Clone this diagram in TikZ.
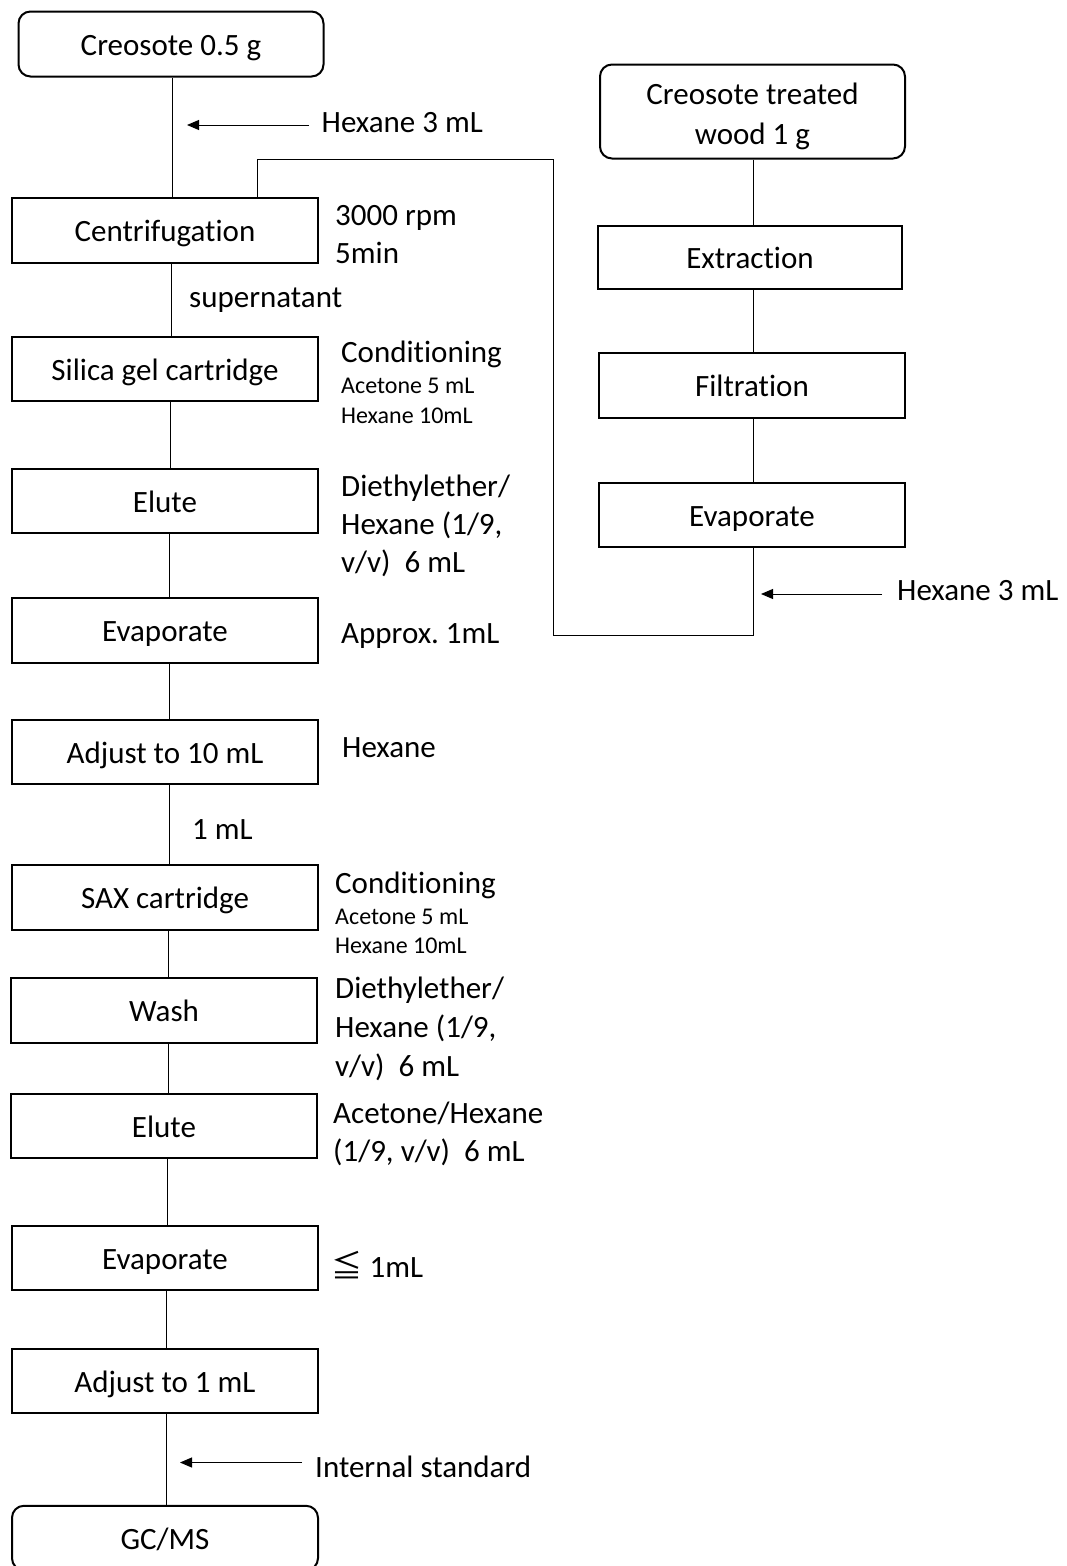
\documentclass[tikz,border=0pt]{standalone}
\usepackage{fontspec}
\setmainfont{Carlito}[Ligatures=NoCommon]
\newfontfamily\cjkjp{Noto Sans CJK JP}
\usetikzlibrary{arrows.meta}
\frenchspacing
\begin{document}
\begin{tikzpicture}[x=1pt,y=-1pt,
  frame/.style={draw, line width=2pt, minimum width=306pt, minimum height=64.5pt, inner sep=0pt, font=\fontsize{31}{40}\selectfont},
  box/.style={frame, text height=22pt, text depth=0pt},
  rbox/.style={box, rounded corners=12pt},
  link/.style={line width=1pt},
  arr/.style={line width=1pt, -{Triangle[length=12pt,width=10pt]}},
  lab/.style={anchor=base west, inner sep=0pt, font=\fontsize{31}{40}\selectfont},
  slab/.style={anchor=base west, inner sep=0pt, font=\fontsize{24}{29}\selectfont}]
\useasboundingbox (0,0) rectangle (1066,1566);

% left column
\node[rbox, minimum width=305pt, minimum height=65pt] (c05) at (171,44) {Creosote 0.5 g};
\node[box] (cen) at (165,230.5) {Centrifugation};
\node[box] (sil) at (165,369) {Silica gel cartridge};
\node[box] (elu1) at (165,501) {Elute};
\node[box] (eva1) at (165,630.5) {Evaporate};
\node[box] (adj10) at (165,752) {Adjust to 10 mL};
\node[box] (sax) at (165,897.5) {SAX cartridge};
\node[box] (wash) at (164,1010.5) {Wash};
\node[box] (elu2) at (164,1126) {Elute};
\node[box] (eva2) at (165,1258) {Evaporate};
\node[box] (adj1) at (165,1381) {Adjust to 1 mL};
\node[rbox] (gc) at (165,1538) {GC/MS};

% right column
\node[frame, rounded corners=12pt, minimum width=305pt, minimum height=94pt, align=center] (wood) at (752.5,111.5) {\rule{0pt}{32pt}Creosote treated\\wood 1 g};
\node[box, minimum width=304pt, minimum height=63.5pt] (ext) at (750,257.5) {Extraction};
\node[box, minimum height=65pt] (filt) at (752,385.5) {Filtration};
\node[box] (eva3) at (752,515) {Evaporate};

% labels
\node[lab] (hx1) at (321.5,132) {Hexane 3 mL};
\node[lab] (rpm) at (335,225) {3000 rpm};
\node[lab] (min) at (335,263) {5min};
\node[lab] (sup) at (189,307) {supernatant};
\node[lab] (cond1) at (341,362) {Conditioning};
\node[slab] (ac1) at (341,393) {Acetone 5 mL};
\node[slab] (hxa1) at (341,423) {Hexane 10mL};
\node[lab] (de1a) at (341,496) {Diethylether/};
\node[lab] (de1b) at (341,534) {Hexane (1/9,};
\node[lab] (de1c) at (341,572) {v/v)~~6 mL};
\node[lab] (apx) at (341,643) {Approx. 1mL};
\node[lab] (hxn) at (342,757) {Hexane};
\node[lab] (onem) at (192,839) {1 mL};
\node[lab] (cond2) at (335,893) {Conditioning};
\node[slab] (ac2) at (335,924) {Acetone 5 mL};
\node[slab] (hxa2) at (335,953) {Hexane 10mL};
\node[lab] (de2a) at (335,998) {Diethylether/};
\node[lab] (de2b) at (335,1037) {Hexane (1/9,};
\node[lab] (de2c) at (335,1076) {v/v)~~6 mL};
\node[lab] (ah1) at (333,1123) {Acetone/Hexane};
\node[lab] (ah2) at (333,1161) {(1/9, v/v)~~6 mL};
\node[lab] (le) at (331.5,1277) {{\cjkjp ≦} 1mL};
\node[lab] (hx2) at (897,600) {Hexane 3 mL};
\node[lab] (istd) at (315,1477) {Internal standard};

% arrow coordinates
\coordinate (a1s) at (309,125);
\coordinate (a1t) at (187,125);
\coordinate (a2s) at (882,594);
\coordinate (a2t) at (761,594);
\coordinate (a3s) at (302,1462.5);
\coordinate (a3t) at (180,1462.5);
\draw[arr] (a1s) -- (a1t);
\draw[arr] (a2s) -- (a2t);
\draw[arr] (a3s) -- (a3t);

% left connectors
\draw[link] ([xshift=1pt]c05.south) -- ([xshift=7pt]cen.north);
\draw[link] ([xshift=6.5pt]cen.south) -- ([xshift=6.5pt]sil.north);
\draw[link] ([xshift=5.7pt]sil.south) -- ([xshift=5.7pt]elu1.north);
\draw[link] ([xshift=4.6pt]elu1.south) -- ([xshift=4.6pt]eva1.north);
\draw[link] ([xshift=4.5pt]eva1.south) -- ([xshift=4.5pt]adj10.north);
\draw[link] ([xshift=4pt]adj10.south) -- ([xshift=4pt]sax.north);
\draw[link] ([xshift=3.6pt]sax.south) -- ([xshift=4.6pt]wash.north);
\draw[link] ([xshift=4pt]wash.south) -- ([xshift=4pt]elu2.north);
\draw[link] ([xshift=3.5pt]elu2.south) -- ([xshift=2.5pt]eva2.north);
\draw[link] ([xshift=1.8pt]eva2.south) -- ([xshift=1.8pt]adj1.north);
\draw[link] ([xshift=1pt]adj1.south) -- ([xshift=1pt]gc.north);

% right connectors
\draw[link] ([xshift=0.5pt]wood.south) -- ([xshift=3pt]ext.north);
\draw[link] ([xshift=3pt]ext.south) -- ([xshift=1pt]filt.north);
\draw[link] ([xshift=1pt]filt.south) -- ([xshift=1pt]eva3.north);

% feedback line
\coordinate (fb1) at (553.5,635.5);
\coordinate (fb2) at (553.5,159);
\draw[link] ([xshift=1pt]eva3.south) |- (fb1) -- (fb2) -| ([xshift=92pt]cen.north);
\end{tikzpicture}
\end{document}
